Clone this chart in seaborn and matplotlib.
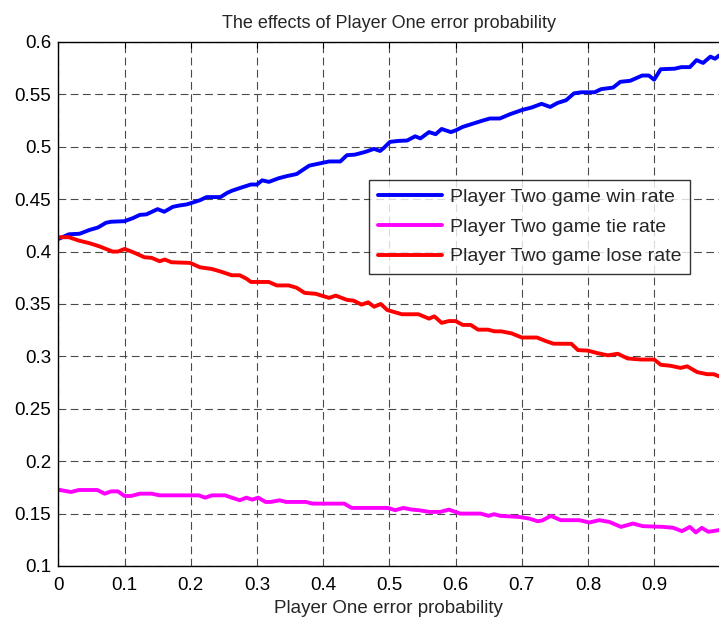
import numpy as np
import pandas as pd
import matplotlib
matplotlib.use("Agg")
import matplotlib.pyplot as plt
import seaborn as sns

# ---- data ----
win_x = [0.0, 0.016, 0.032, 0.047, 0.06, 0.072, 0.08, 0.1, 0.113, 0.123, 0.133, 0.15, 0.16, 0.173,
         0.183, 0.194, 0.214, 0.224, 0.245, 0.255, 0.262, 0.276, 0.291, 0.3, 0.308, 0.318, 0.333,
         0.345, 0.36, 0.379, 0.394, 0.409, 0.426, 0.436, 0.448, 0.463, 0.477, 0.486, 0.491, 0.501,
         0.514, 0.527, 0.539, 0.547, 0.56, 0.57, 0.579, 0.593, 0.6, 0.611, 0.626, 0.641, 0.652,
         0.667, 0.682, 0.7, 0.715, 0.73, 0.743, 0.754, 0.767, 0.779, 0.79, 0.81, 0.82, 0.838,
         0.849, 0.864, 0.882, 0.892, 0.9, 0.91, 0.931, 0.941, 0.954, 0.964, 0.974, 0.985, 0.992, 0.998]
win_y = [0.412, 0.4165, 0.417, 0.4206, 0.423, 0.4275, 0.4285, 0.429, 0.432, 0.435, 0.4355, 0.4405,
         0.438, 0.4427, 0.444, 0.445, 0.449, 0.452, 0.452, 0.456, 0.458, 0.461, 0.464, 0.464, 0.468,
         0.4665, 0.470, 0.472, 0.474, 0.482, 0.484, 0.486, 0.486, 0.492, 0.4925, 0.495, 0.498, 0.496,
         0.4985, 0.5047, 0.5056, 0.506, 0.51, 0.508, 0.514, 0.512, 0.517, 0.514, 0.5156, 0.519, 0.522,
         0.525, 0.527, 0.527, 0.531, 0.535, 0.5375, 0.541, 0.538, 0.5418, 0.5444, 0.551, 0.552, 0.552,
         0.555, 0.5565, 0.562, 0.563, 0.568, 0.568, 0.564, 0.574, 0.5745, 0.576, 0.576, 0.5827, 0.580,
         0.586, 0.584, 0.587]

tie_x = [0.0, 0.019, 0.031, 0.059, 0.07, 0.08, 0.09, 0.1, 0.11, 0.123, 0.141, 0.153, 0.212, 0.222,
         0.232, 0.252, 0.262, 0.274, 0.284, 0.293, 0.302, 0.313, 0.321, 0.334, 0.344, 0.374, 0.384,
         0.432, 0.443, 0.498, 0.509, 0.521, 0.534, 0.545, 0.56, 0.577, 0.59, 0.607, 0.638, 0.65,
         0.658, 0.668, 0.696, 0.711, 0.724, 0.731, 0.744, 0.759, 0.787, 0.802, 0.817, 0.832, 0.85,
         0.868, 0.883, 0.914, 0.929, 0.942, 0.954, 0.963, 0.972, 0.982, 0.998]
tie_y = [0.1728, 0.1706, 0.1725, 0.1725, 0.169, 0.1712, 0.1712, 0.1668, 0.1668, 0.169, 0.169, 0.1674,
         0.1674, 0.1652, 0.1674, 0.1674, 0.1652, 0.1627, 0.1652, 0.1633, 0.1652, 0.1611, 0.1611,
         0.1627, 0.1611, 0.1611, 0.1595, 0.1595, 0.1554, 0.1554, 0.1532, 0.1554, 0.1538, 0.1532,
         0.1516, 0.1516, 0.1538, 0.15, 0.15, 0.1478, 0.1494, 0.1478, 0.1468, 0.1453, 0.1427, 0.1434,
         0.1478, 0.1437, 0.1437, 0.1415, 0.1437, 0.1421, 0.1373, 0.1405, 0.138, 0.1373, 0.1364,
         0.1332, 0.1373, 0.132, 0.1364, 0.1326, 0.1342]

lose_x = [0.0, 0.016, 0.031, 0.047, 0.062, 0.072, 0.082, 0.09, 0.1, 0.113, 0.13, 0.141, 0.153, 0.161,
          0.171, 0.199, 0.214, 0.232, 0.245, 0.262, 0.274, 0.284, 0.291, 0.318, 0.33, 0.348, 0.36,
          0.372, 0.389, 0.409, 0.419, 0.436, 0.446, 0.458, 0.468, 0.477, 0.487, 0.497, 0.519, 0.544,
          0.56, 0.568, 0.579, 0.59, 0.6, 0.611, 0.623, 0.634, 0.649, 0.659, 0.669, 0.685, 0.7, 0.723,
          0.736, 0.748, 0.775, 0.785, 0.8, 0.815, 0.83, 0.845, 0.86, 0.88, 0.9, 0.91, 0.925, 0.94,
          0.95, 0.965, 0.98, 0.99, 0.998]
lose_y = [0.4137, 0.4137, 0.4105, 0.408, 0.405, 0.4025, 0.4, 0.4, 0.4025, 0.3994, 0.3946, 0.394,
          0.3908, 0.3924, 0.3898, 0.3892, 0.385, 0.3834, 0.381, 0.3774, 0.3774, 0.3742, 0.371, 0.371,
          0.3677, 0.3677, 0.3655, 0.3606, 0.3597, 0.3558, 0.358, 0.3539, 0.3532, 0.3494, 0.3516,
          0.3474, 0.35, 0.3442, 0.3402, 0.3402, 0.336, 0.3382, 0.332, 0.3337, 0.3337, 0.330, 0.330,
          0.3255, 0.3255, 0.3239, 0.3239, 0.3219, 0.318, 0.318, 0.3147, 0.3121, 0.312, 0.306, 0.3055,
          0.303, 0.301, 0.3025, 0.298, 0.297, 0.297, 0.292, 0.291, 0.289, 0.2905, 0.285, 0.283, 0.283,
          0.281]

labels = ["Player Two game win rate", "Player Two game tie rate", "Player Two game lose rate"]
colors = ["#0000ff", "#ff00ff", "#ff0000"]
x_ticks = [0, 0.1, 0.2, 0.3, 0.4, 0.5, 0.6, 0.7, 0.8, 0.9]
y_ticks = [0.1, 0.15, 0.2, 0.25, 0.3, 0.35, 0.4, 0.45, 0.5, 0.55, 0.6]
title = "The effects of Player One error probability"
xlabel = "Player One error probability"

df = pd.concat([
    pd.DataFrame({"x": win_x, "y": win_y, "series": labels[0]}),
    pd.DataFrame({"x": tie_x, "y": tie_y, "series": labels[1]}),
    pd.DataFrame({"x": lose_x, "y": lose_y, "series": labels[2]}),
], ignore_index=True)

sns.set_style("white")
plt.rcParams["font.family"] = ["Liberation Sans", "DejaVu Sans"]

fig = plt.figure(figsize=(7.19, 6.21), dpi=100)
ax = fig.add_axes([0.0811, 0.0886, 0.9189, 0.8438])

sns.lineplot(data=df, x="x", y="y", hue="series", hue_order=labels,
             palette=dict(zip(labels, colors)), estimator=None, sort=True,
             linewidth=2.8, ax=ax)

ax.set_xlim(0, 0.998)
ax.set_ylim(0.1, 0.6)
ax.set_xticks(x_ticks)
ax.set_xticklabels([("%g" % v) for v in x_ticks])
ax.set_yticks(y_ticks)
ax.set_yticklabels([("%g" % v) for v in y_ticks])
ax.tick_params(direction="in", length=4, width=0.8, labelsize=13.5, colors="black",
               top=True, right=False)
ax.tick_params(axis="x", pad=8)
ax.tick_params(axis="y", pad=5)
ax.grid(True, color="#4a4a4a", linestyle=(0, (7, 4)), linewidth=0.8)
for s in ["left", "bottom", "top"]:
    ax.spines[s].set_color("black")
    ax.spines[s].set_linewidth(1.0)
ax.spines["right"].set_visible(False)

ax.set_title(title, fontsize=13, pad=10)
ax.set_xlabel(xlabel, fontsize=13.5, labelpad=4)
ax.set_ylabel("")

leg = ax.legend(loc="upper left", bbox_to_anchor=(0.471, 0.737), borderaxespad=0,
                fontsize=14, frameon=True, fancybox=False, edgecolor="black",
                handlelength=3.3, handletextpad=0.4, labelspacing=0.62,
                borderpad=0.45, title=None)
leg.get_frame().set_linewidth(1.0)
for line in leg.get_lines():
    line.set_linewidth(2.8)

fig.savefig("out.png", dpi=100, facecolor="white")
